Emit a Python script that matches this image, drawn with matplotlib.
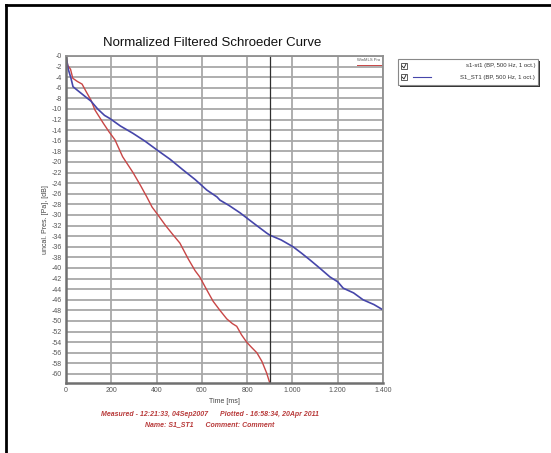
import matplotlib.pyplot as plt
from matplotlib.patches import Rectangle
from matplotlib.lines import Line2D

# red: s1-st1
red_t = [0, 8, 20, 30, 50, 71, 90, 110, 128, 165, 190, 216, 250, 296, 330, 357, 380, 401,
         440, 470, 503, 540, 570, 591, 620, 650, 680, 710, 735, 754, 775, 798, 820, 843,
         865, 886, 900]
red_db = [0, -1.8, -2.5, -4.2, -4.8, -5.3, -6.8, -8.3, -10.2, -12.7, -14.3, -15.8, -19.0,
          -22.0, -24.5, -26.6, -28.5, -29.7, -32.0, -33.6, -35.3, -38.3, -40.5, -41.7, -44.0,
          -46.3, -48.0, -49.6, -50.5, -51.0, -52.6, -54.0, -55.0, -56.0, -57.6, -59.8, -61.7]

# blue: S1_ST1
blue_t = [0, 10, 22, 31, 60, 92, 110, 140, 170, 194, 240, 296, 350, 401, 460, 517, 570, 622,
          667, 680, 720, 769, 830, 886, 900, 950, 1003, 1040, 1078, 1120, 1166, 1200, 1224,
          1270, 1312, 1360, 1400]
blue_db = [0, -2.5, -4.2, -5.8, -6.8, -7.9, -8.5, -10.0, -11.2, -11.8, -13.2, -14.6, -16.1,
           -17.7, -19.5, -21.5, -23.3, -25.3, -26.6, -27.2, -28.2, -29.6, -31.6, -33.4, -33.8,
           -34.7, -36.0, -37.2, -38.5, -40.0, -41.7, -42.6, -43.8, -44.7, -46.0, -46.9, -47.9]

x_ticks = [0, 200, 400, 600, 800, 1000, 1200, 1400]
x_labels = ['0', '200', '400', '600', '800', '1.000', '1.200', '1.400']
y_ticks = list(range(0, -61, -2))
y_labels = ['-' + str(abs(v)) for v in y_ticks]
cursor_t = 900

legend_names = ['s1-st1 (BP, 500 Hz, 1 oct.)', 'S1_ST1 (BP, 500 Hz, 1 oct.)']

red = '#c84646'
blue = '#4646aa'
grid_c = '#a8a8a8'

W, H = 551, 453
fig = plt.figure(figsize=(W / 100, H / 100), dpi=100)
plt.rcParams['font.family'] = ['Liberation Sans', 'DejaVu Sans']

# outer frame (only top and left visible)
fig.add_artist(Line2D([6 / W, 1], [1 - 5 / H, 1 - 5 / H], color='black', lw=2))
fig.add_artist(Line2D([6 / W, 6 / W], [0, 1 - 5 / H], color='black', lw=2))

ax = fig.add_axes([66 / W, 1 - 383 / H, (383 - 66) / W, (383 - 56) / H])
ax.plot(red_t, red_db, color=red, lw=1.0)
ax.plot(blue_t, blue_db, color=blue, lw=1.2)
ax.axvline(cursor_t, color='#303030', lw=0.9)

ax.set_xlim(0, 1400)
ax.set_ylim(-61.7, 0)
ax.set_xticks(x_ticks)
ax.set_xticklabels(x_labels)
ax.set_yticks(y_ticks)
ax.set_yticklabels(y_labels)
ax.tick_params(labelsize=5, colors='#555555', length=0, pad=3)
ax.grid(True, color=grid_c, lw=1.3)
ax.set_axisbelow(True)
for s in ax.spines.values():
    s.set_color('#909090')
    s.set_linewidth(1.3)
ax.spines['left'].set_color('#707070')
ax.spines['bottom'].set_color('#707070')
ax.spines['left'].set_linewidth(1.8)
ax.spines['bottom'].set_linewidth(1.8)

ax.set_xlabel('Time [ms]', fontsize=5, color='#444444', labelpad=3)
ax.set_ylabel('uncal. Pres. [Pa], [dB]', fontsize=5, color='#444444', labelpad=2)

# WinMLS tag and red marker in top-right corner
ax.text(0.99, 0.995, 'WinMLS Pro', transform=ax.transAxes, fontsize=3, color='#555555',
        ha='right', va='top')
ax.plot([0.918, 1.0], [0.974, 0.974], transform=ax.transAxes, color=red, lw=0.7)

fig.text(212 / W, 1 - 43 / H, 'Normalized Filtered Schroeder Curve', fontsize=9.5,
         ha='center', va='center', color='#111111')

# legend box
lx0, lx1, ly0, ly1 = 398, 538, 59, 85
fig.add_artist(Rectangle((lx0 / W + 2 / W, 1 - (ly1 + 2) / H), (lx1 - lx0) / W, (ly1 - ly0) / H,
                         transform=fig.transFigure, facecolor='#333333', edgecolor='none'))
fig.add_artist(Rectangle((lx0 / W, 1 - ly1 / H), (lx1 - lx0) / W, (ly1 - ly0) / H,
                         transform=fig.transFigure, facecolor='white', edgecolor='#888888', lw=0.8))
for i, (name, col) in enumerate(zip(legend_names, ['white', blue])):
    yy = 66 + i * 11
    fig.add_artist(Rectangle((401 / W, 1 - (yy + 3) / H), 6 / W, 6 / H,
                             transform=fig.transFigure, facecolor='white', edgecolor='#444444',
                             lw=0.6))
    fig.add_artist(Line2D([402 / W, 404 / W, 406 / W], [1 - yy / H, 1 - (yy + 2) / H, 1 - (yy - 2) / H],
                          color='#222222', lw=0.6))
    fig.add_artist(Line2D([413 / W, 431 / W], [1 - yy / H, 1 - yy / H], color=col, lw=0.8))
    fig.text(535 / W, 1 - yy / H, name, fontsize=4.3, ha='right', va='center', color='#333333')

fig.text(210 / W, 1 - 415 / H,
         'Measured - 12:21:33, 04Sep2007      Plotted - 16:58:34, 20Apr 2011',
         fontsize=5, color='#b83a3a', style='italic', weight='bold', ha='center', va='center')
fig.text(210 / W, 1 - 425 / H, 'Name: S1_ST1      Comment: Comment',
         fontsize=5, color='#b83a3a', style='italic', weight='bold', ha='center', va='center')

fig.savefig('out.png', dpi=100)
